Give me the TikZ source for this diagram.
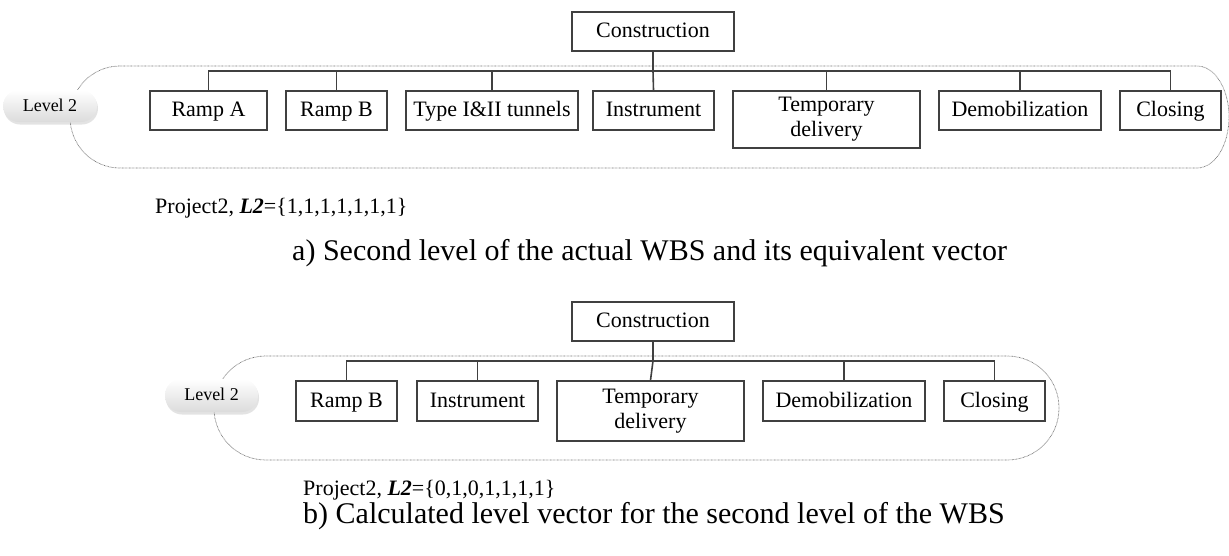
\documentclass[tikz,border=0pt]{standalone}
\usepackage{fontspec}
\setmainfont{Liberation Serif}
\usetikzlibrary{shadows}
\tikzset{
  wbox/.style={draw=black!75, line width=1.6pt, fill=white, inner sep=0pt, align=center,
    font=\fontsize{22}{25}\selectfont},
  onel/.style={text height=16.3pt, text depth=3.7pt},
  conn/.style={draw=black!75, line width=1.6pt},
  stemline/.style={draw=black!75, line width=2.4pt},
  pill/.style={rounded corners=16pt, top color=white, bottom color=black!14, inner sep=0pt,
    font=\fontsize{18}{20}\selectfont, text height=13.5pt, text depth=3pt,
    drop shadow={shadow xshift=1pt, shadow yshift=-2.5pt, opacity=0.22}},
  lvl/.style={draw=black!55, line width=0.7pt, dash pattern=on 0.7pt off 0.7pt},
  captext/.style={anchor=base west, inner sep=0pt, font=\fontsize{30}{32}\selectfont},
  projtext/.style={anchor=base west, inner sep=0pt, font=\fontsize{22}{24}\selectfont},
}
\begin{document}
\begin{tikzpicture}[x=1pt, y=-1pt]
\useasboundingbox (0,0) rectangle (1229,555);

% ---------- a) ----------
\draw[lvl] (120,66) -- (1197,66)
  .. controls (1215,66) and (1229,89) .. (1229,117)
  .. controls (1229,145) and (1215,168) .. (1197,168)
  -- (120,168)
  .. controls (92,168) and (70,145) .. (70,117)
  .. controls (70,89) and (92,66) .. (120,66) -- cycle;

\node[pill, minimum width=94, minimum height=32] (lvA) at (50,106) {Level 2};

\node[wbox, onel, minimum width=162, minimum height=39] (coA) at (653,31.5) {Construction};
\node[wbox, onel, minimum width=117, minimum height=39] (raA) at (208.5,110.5) {Ramp A};
\node[wbox, onel, minimum width=101, minimum height=39] (rbA) at (336.5,110.5) {Ramp B};
\node[wbox, onel, minimum width=172, minimum height=39] (tyA) at (492,110.5) {Type I\&II tunnels};
\node[wbox, onel, minimum width=121, minimum height=39] (inA) at (653.5,110.5) {Instrument};
\node[wbox, minimum width=187, minimum height=57] (tdA) at (826.5,119.5) {Temporary\\delivery};
\node[wbox, onel, minimum width=162, minimum height=39] (deA) at (1020,110.5) {Demobilization};
\node[wbox, onel, minimum width=101, minimum height=39] (clA) at (1170.5,110.5) {Closing};
\coordinate (busA) at (0,71);

\draw[conn] (raA.north) -- (raA.north |- busA) -- (clA.north |- busA) -- (clA.north);
\draw[conn] (rbA.north) -- (rbA.north |- busA);
\draw[conn] (tyA.north) -- (tyA.north |- busA);
\draw[conn] (tdA.north) -- (tdA.north |- busA);
\draw[conn] (deA.north) -- (deA.north |- busA);
\draw[stemline] (coA.south) -- (coA.south |- busA);
\draw[conn] (coA.south |- busA) -- (inA.north);

\node[projtext] (pA) at (155,213) {Project2, \textbf{\textit{L2}}=\{1,1,1,1,1,1,1\}};
\node[captext] (cA) at (292,260) {a) Second level of the actual WBS and its equivalent vector};

% ---------- b) ----------
\draw[lvl] (266,356) -- (1007,356)
  .. controls (1036,356) and (1059,379) .. (1059,408)
  .. controls (1059,437) and (1036,460) .. (1007,460)
  -- (266,460)
  .. controls (237,460) and (214,437) .. (214,408)
  .. controls (214,379) and (237,356) .. (266,356) -- cycle;

\node[pill, minimum width=93, minimum height=33] (lvB) at (211.5,395.5) {Level 2};

\node[wbox, onel, minimum width=162, minimum height=39] (coB) at (653,321.5) {Construction};
\node[wbox, onel, minimum width=101, minimum height=40] (rbB) at (346.5,401) {Ramp B};
\node[wbox, onel, minimum width=121, minimum height=40] (inB) at (477.5,401) {Instrument};
\node[wbox, minimum width=187, minimum height=60] (tdB) at (650.5,411) {Temporary\\delivery};
\node[wbox, onel, minimum width=162, minimum height=40] (deB) at (844,401) {Demobilization};
\node[wbox, onel, minimum width=101, minimum height=40] (clB) at (994.5,401) {Closing};
\coordinate (busB) at (0,361);

\draw[conn] (rbB.north) -- (rbB.north |- busB) -- (clB.north |- busB) -- (clB.north);
\draw[conn] (inB.north) -- (inB.north |- busB);
\draw[conn] (deB.north) -- (deB.north |- busB);
\draw[stemline] (coB.south) -- (coB.south |- busB);
\draw[conn] (coB.south |- busB) -- (tdB.north);

\node[projtext] (pB) at (303,495) {Project2, \textbf{\textit{L2}}=\{0,1,0,1,1,1,1\}};
\node[captext] (cB) at (303,523) {b) Calculated level vector for the second level of the WBS};
\end{tikzpicture}
\end{document}
